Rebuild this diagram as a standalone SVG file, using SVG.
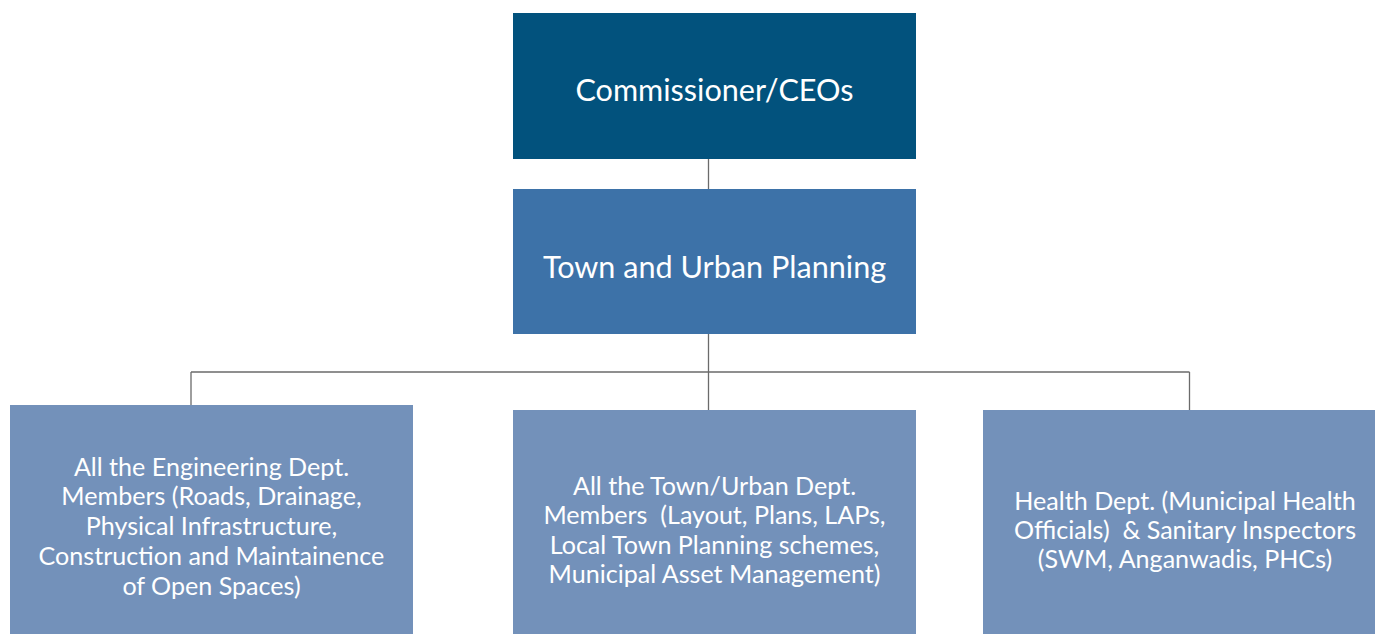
<svg xmlns="http://www.w3.org/2000/svg" width="1375" height="634" viewBox="0 0 1375 634">
<style>
.t{font-family:Lato,"Noto Sans","Liberation Sans",sans-serif;fill:#ffffff;text-anchor:middle;white-space:pre}
.h{font-size:30.6px}
.b{font-size:25.1px}
.c{stroke:#6b6b6b;stroke-width:1.3;fill:none}
</style>
<rect width="1375" height="634" fill="#ffffff"/>
<g id="connectors">
<path class="c" d="M708.5 159V189M708.5 334V410M191 372H1189.5M191 372V405M1189.5 372V410"/>
</g>
<g id="n-commissioner">
<rect x="513" y="13" width="403" height="146" fill="#02527D"/>
<text class="t h" x="714.5" y="101">Commissioner/CEOs</text>
</g>
<g id="n-planning">
<rect x="513" y="189" width="403" height="145" fill="#3D72A8"/>
<text class="t h" x="714.5" y="278">Town and Urban Planning</text>
</g>
<g id="n-engineering">
<rect x="10" y="405" width="403" height="229" fill="#7391BA"/>
<text class="t b" x="211.5"><tspan x="211.5" y="476">All the Engineering Dept.</tspan><tspan x="211.5" y="505">Members (Roads, Drainage,</tspan><tspan x="211.5" y="535">Physical Infrastructure,</tspan><tspan x="211.5" y="565">Construction and Maintainence</tspan><tspan x="211.5" y="595">of Open Spaces)</tspan></text>
</g>
<g id="n-town">
<rect x="513" y="410" width="403" height="224" fill="#7391BA"/>
<text class="t b" x="714.5" xml:space="preserve"><tspan x="714.5" y="495">All the Town/Urban Dept.</tspan><tspan x="714.5" y="524">Members  (Layout, Plans, LAPs,</tspan><tspan x="714.5" y="554">Local Town Planning schemes,</tspan><tspan x="714.5" y="583">Municipal Asset Management)</tspan></text>
</g>
<g id="n-health">
<rect x="983" y="410" width="392" height="224" fill="#7391BA"/>
<text class="t b" x="1185" xml:space="preserve"><tspan x="1185" y="510">Health Dept. (Municipal Health</tspan><tspan x="1185" y="539">Officials)  &amp; Sanitary Inspectors</tspan><tspan x="1185" y="568">(SWM, Anganwadis, PHCs)</tspan></text>
</g>
</svg>
